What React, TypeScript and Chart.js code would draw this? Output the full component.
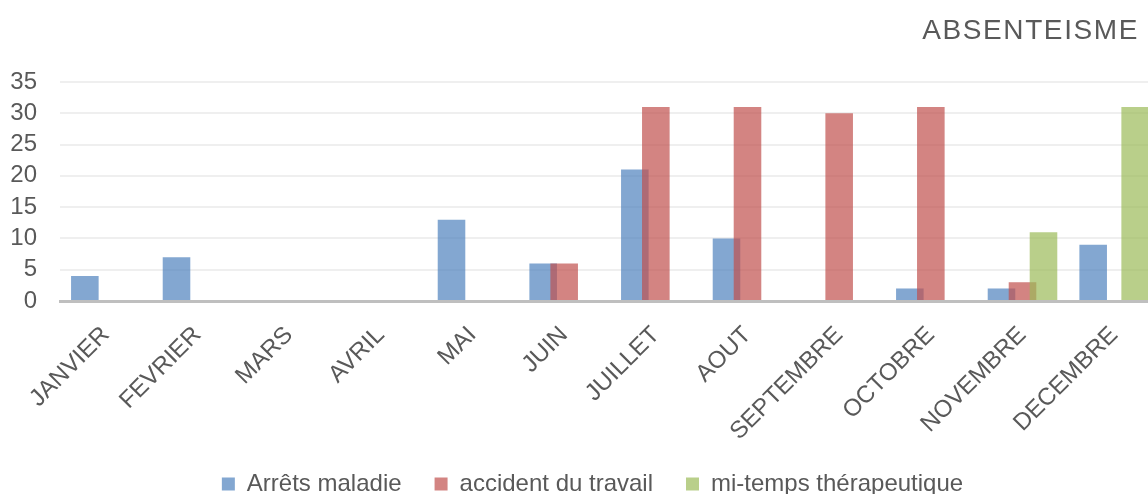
import React, { useEffect, useRef } from "react";
import { Chart, registerables } from "chart.js";

Chart.register(...registerables);

const TITLE = "ABSENTEISME";
const MONTHS = [
  "JANVIER", "FEVRIER", "MARS", "AVRIL", "MAI", "JUIN",
  "JUILLET", "AOUT", "SEPTEMBRE", "OCTOBRE", "NOVEMBRE", "DECEMBRE",
];
const SERIES_NAMES = ["Arrêts maladie", "accident du travail", "mi-temps thérapeutique"];
const ARRETS_MALADIE = [4, 7, 0, 0, 13, 6, 21, 10, 0, 2, 2, 9];
const ACCIDENT_TRAVAIL = [0, 0, 0, 0, 0, 6, 31, 31, 30, 31, 3, 0];
const MI_TEMPS = [0, 0, 0, 0, 0, 0, 0, 0, 0, 0, 11, 31];
const Y_MIN = 0;
const Y_MAX = 35;
const Y_STEP = 5;

const FONT = '"Liberation Sans", Arial, sans-serif';
const TEXT_COLOR = "#595959";

// Draw datasets in index order so later series sit on top of earlier ones
const drawOrderPlugin = {
  id: "drawOrder",
  beforeDatasetsDraw(chart: any) {
    const { ctx, chartArea } = chart;
    ctx.save();
    ctx.beginPath();
    ctx.rect(chartArea.left, chartArea.top - 2, chartArea.right - chartArea.left, chartArea.bottom - chartArea.top + 2);
    ctx.clip();
    for (let i = 0; i < chart.data.datasets.length; i++) {
      if (chart.isDatasetVisible(i)) chart.getDatasetMeta(i).controller.draw();
    }
    ctx.restore();
    return false;
  },
};

const titlePlugin = {
  id: "rightTitle",
  afterDraw(chart: any) {
    const ctx = chart.ctx;
    ctx.save();
    ctx.font = `28px ${FONT}`;
    ctx.fillStyle = TEXT_COLOR;
    ctx.textAlign = "right";
    ctx.textBaseline = "alphabetic";
    (ctx as any).letterSpacing = "1.6px";
    ctx.fillText(TITLE, 1139, 39);
    ctx.restore();
  },
};

export default function App() {
  const ref = useRef<HTMLCanvasElement | null>(null);

  useEffect(() => {
    if (!ref.current) return;
    Chart.defaults.font.family = FONT;
    const common = {
      categoryPercentage: 0.687,
      barPercentage: 1.314,
      borderWidth: 0,
    };
    const chart = new Chart(ref.current, {
      type: "bar",
      data: {
        labels: MONTHS,
        datasets: [
          { label: SERIES_NAMES[0], data: ARRETS_MALADIE, backgroundColor: "rgba(79,129,189,0.7)", ...common },
          { label: SERIES_NAMES[1], data: ACCIDENT_TRAVAIL, backgroundColor: "rgba(192,80,77,0.7)", ...common },
          { label: SERIES_NAMES[2], data: MI_TEMPS, backgroundColor: "rgba(155,187,89,0.7)", ...common },
        ],
      },
      options: {
        animation: false,
        responsive: false,
        maintainAspectRatio: false,
        layout: { padding: { top: 82, left: 0, right: 0, bottom: 0 } },
        plugins: {
          title: { display: false },
          tooltip: { enabled: false },
          legend: {
            position: "bottom",
            labels: {
              boxWidth: 13,
              boxHeight: 13,
              padding: 33,
              color: TEXT_COLOR,
              font: { size: 24, family: FONT },
            },
          },
        },
        scales: {
          x: {
            grid: { display: false, drawTicks: false },
            border: { display: true, color: "#BFBFBF", width: 3 },
            ticks: {
              autoSkip: false,
              minRotation: 45,
              maxRotation: 45,
              padding: 20,
              color: TEXT_COLOR,
              font: { size: 24, family: FONT },
            },
            afterFit: (s: any) => {
              s.height = 138;
              s._computeLabelArea = () => undefined;
            },
          },
          y: {
            min: Y_MIN,
            max: Y_MAX,
            grid: { color: "#EFEFEF", lineWidth: 2, drawTicks: false },
            border: { display: false },
            ticks: {
              stepSize: Y_STEP,
              autoSkip: false,
              padding: 23,
              color: TEXT_COLOR,
              font: { size: 24, family: FONT, lineHeight: 1 },
            },
            afterFit: (s: any) => { s.width = 60; },
          },
          yR: {
            type: "linear",
            position: "right",
            display: true,
            grid: { display: false, drawTicks: false },
            border: { display: false },
            ticks: { display: false },
            afterFit: (s: any) => { s.width = 25; },
          },
        },
      } as any,
      plugins: [drawOrderPlugin, titlePlugin],
    });
    return () => chart.destroy();
  }, []);

  return (
    <div
      style={{
        position: "fixed",
        left: 0,
        top: 0,
        width: 1148,
        height: 494,
        overflow: "hidden",
        background: "#ffffff",
      }}
    >
      <canvas ref={ref} width={1185} height={506} style={{ display: "block", width: 1185, height: 506 }} />
    </div>
  );
}
